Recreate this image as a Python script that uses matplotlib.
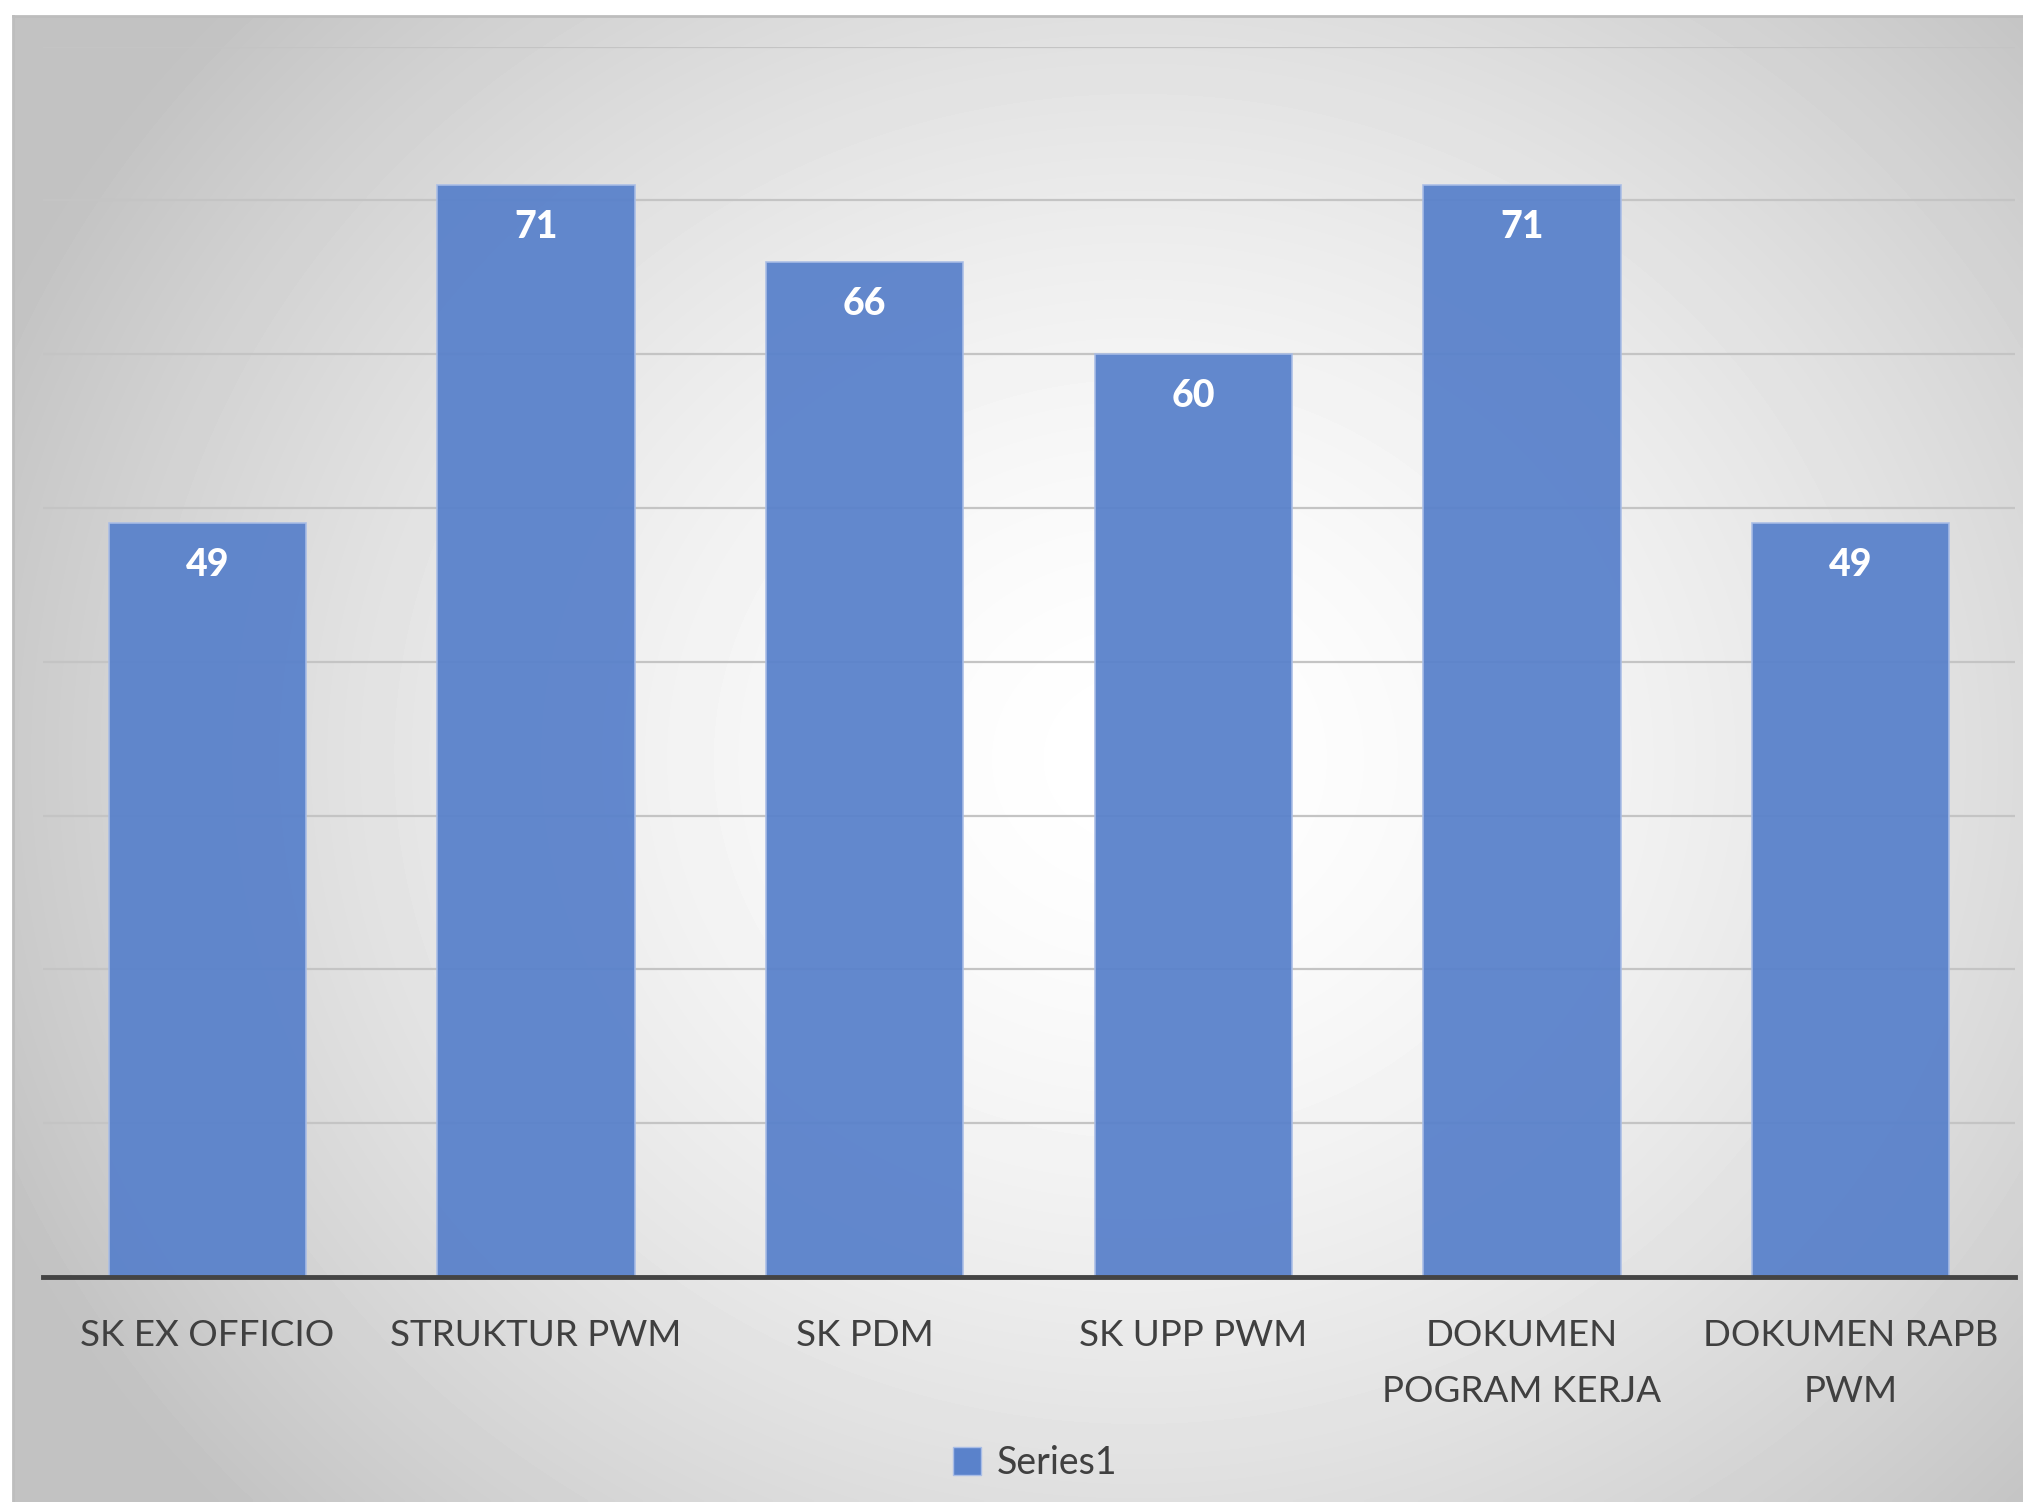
import numpy as np
import matplotlib.pyplot as plt
from matplotlib.patches import Patch

# Data
categories = ['SK EX OFFICIO', 'STRUKTUR PWM', 'SK PDM', 'SK UPP PWM',
              'DOKUMEN\nPOGRAM KERJA', 'DOKUMEN RAPB\nPWM']
values = [49, 71, 66, 60, 71, 49]
series_name = 'Series1'

bar_color = '#5a82cb'
text_color = '#404040'
plt.rcParams['font.family'] = ['Lato', 'DejaVu Sans']

W, H = 2023, 1502
fig = plt.figure(figsize=(W / 100, H / 100), dpi=100)
fig.patch.set_facecolor('white')

# Chart area with radial gradient background
bg = fig.add_axes([13 / W, 0, 1 - 13 / W, 1 - 16 / H])
yy, xx = np.mgrid[0:1:400j, 0:1:540j]
r = np.sqrt(((xx - 0.56) / 0.62) ** 2 + ((yy - 0.5) / 0.75) ** 2)
r = np.clip(r, 0, 1)
shade = 1.0 - 0.24 * r ** 1.6
bg.imshow(shade, cmap='gray', vmin=0, vmax=1, aspect='auto',
          extent=[0, 1, 0, 1], interpolation='bilinear')
bg.set_xticks([])
bg.set_yticks([])
for side in ['right', 'bottom']:
    bg.spines[side].set_visible(False)
for side in ['top', 'left']:
    bg.spines[side].set_color('#bdbdbd')
    bg.spines[side].set_linewidth(2)

# Plot
ax = fig.add_axes([43 / W, 225 / H, 1972 / W, 1230.3 / H])
ax.set_facecolor('none')
x = np.arange(len(categories))
bars = ax.bar(x, values, width=0.6, color=bar_color, alpha=0.95,
              edgecolor='#a9bde6', linewidth=1.2, zorder=3)

ax.set_xlim(-0.5, len(categories) - 0.5)
ax.set_ylim(0, 80)
ax.set_yticks(np.arange(10, 81, 10))
ax.yaxis.grid(True, color='#c4c4c4', linewidth=1.6, zorder=0)
ax.set_axisbelow(True)
ax.tick_params(axis='y', length=0, labelleft=False)
ax.set_xticks(x)
ax.set_xticklabels(categories, fontsize=26.5, color=text_color)
for lbl in ax.get_xticklabels():
    lbl.set_linespacing(1.85)
ax.tick_params(axis='x', length=0, pad=30)

for side in ['top', 'right', 'left']:
    ax.spines[side].set_visible(False)
ax.spines['bottom'].set_color('#444444')
ax.spines['bottom'].set_linewidth(3.5)
ax.spines['bottom'].set_zorder(4)

for b, v in zip(bars, values):
    ax.text(b.get_x() + b.get_width() / 2, v - 1.6, str(v), ha='center', va='top',
            fontsize=27, fontweight='black', color='white', zorder=5)

# Legend
fig.legend(handles=[Patch(facecolor=bar_color, edgecolor='#a9bde6', label=series_name)],
           loc='center', bbox_to_anchor=(1035 / W, 1 - 1463 / H), frameon=False,
           fontsize=27, labelcolor=text_color, handlelength=0.75, handleheight=0.75,
           handletextpad=0.4)

fig.savefig('out.png', dpi=100)
